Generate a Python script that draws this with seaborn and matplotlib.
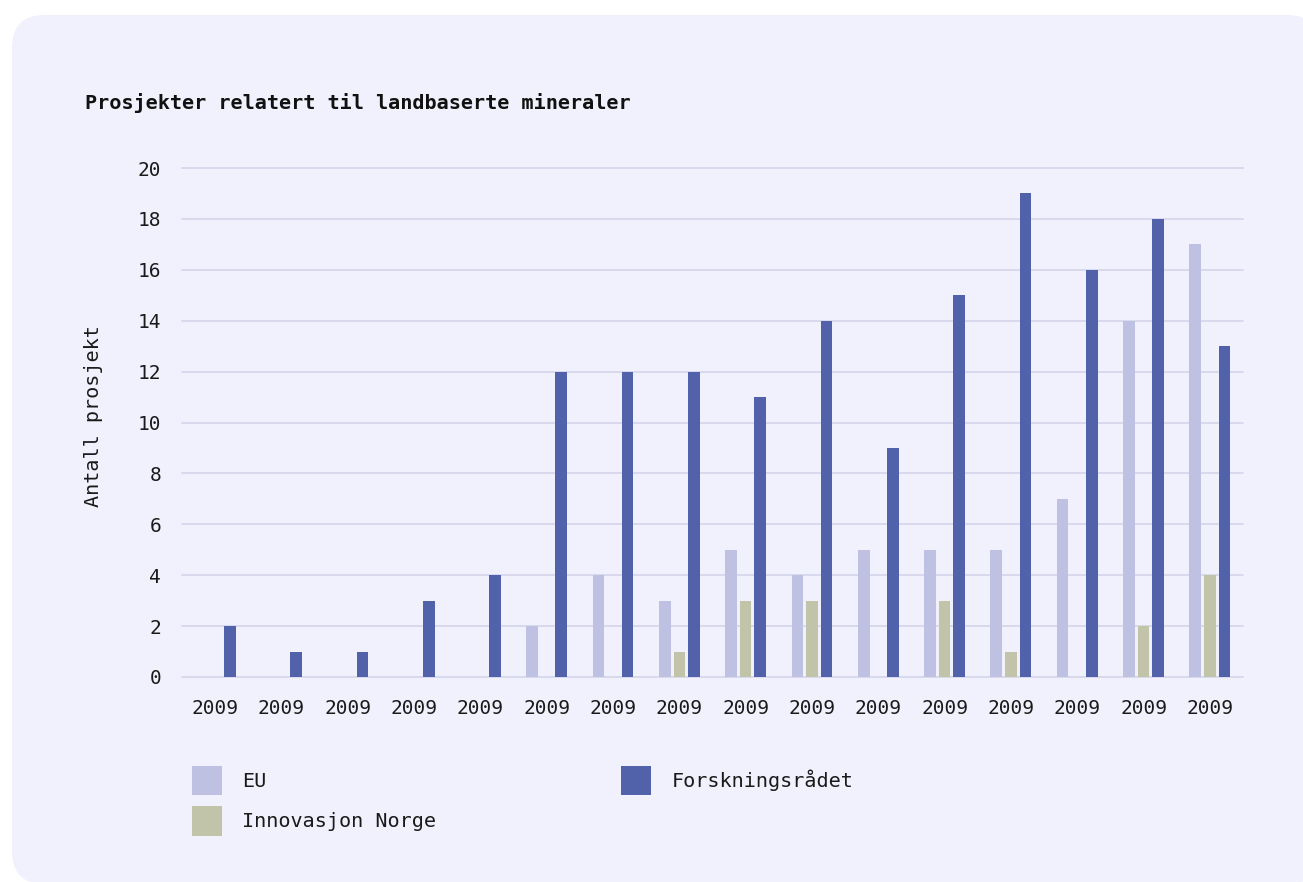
import matplotlib
matplotlib.use("Agg")
import matplotlib.pyplot as plt
from matplotlib.patches import FancyBboxPatch, Patch
import pandas as pd
import seaborn as sns

# Data: number of projects per funding source
years = ["2009"] * 16
eu = [0, 0, 0, 0, 0, 2, 4, 3, 5, 4, 5, 5, 5, 7, 14, 17]
innovasjon_norge = [0, 0, 0, 0, 0, 0, 0, 1, 3, 3, 0, 3, 1, 0, 2, 4]
forskningsradet = [2, 1, 1, 3, 4, 12, 12, 12, 11, 14, 9, 15, 19, 16, 18, 13]

series_names = ["EU", "Innovasjon Norge", "Forskningsrådet"]
series_colors = ["#BFC1E2", "#C1C4A8", "#5162AA"]

rows = []
for name, vals in zip(series_names, [eu, innovasjon_norge, forskningsradet]):
    for i, v in enumerate(vals):
        rows.append({"gruppe": i, "kilde": name, "antall": v})
df = pd.DataFrame(rows)

sns.set_theme(style="white")
plt.rcParams["font.family"] = ["DejaVu Sans Mono"]

W, H = 1303, 882
fig = plt.figure(figsize=(W / 100, H / 100), dpi=100)
fig.patch.set_facecolor("white")

# Rounded background card behind everything
card = FancyBboxPatch((12 / W, (H - 884) / H), (1320 - 12) / W, (884 - 15) / H,
                      boxstyle="round,pad=0,rounding_size=0.025",
                      transform=fig.transFigure, facecolor="#F1F1FD",
                      edgecolor="none", zorder=-10, mutation_aspect=W / H)
fig.patches.append(card)

ax_left, ax_right, ax_top, ax_bottom = 182, 1243, 168, 677
ax = fig.add_axes([ax_left / W, 1 - ax_bottom / H,
                   (ax_right - ax_left) / W, (ax_bottom - ax_top) / H])
ax.set_facecolor("none")
ax.set_zorder(1)

palette = dict(zip(series_names, series_colors))
sns.barplot(data=df, x="gruppe", y="antall", hue="kilde", hue_order=series_names,
            palette=palette, saturation=1, width=0.66, gap=0.2, errorbar=None,
            linewidth=0, legend=False, ax=ax)

ax.set_ylim(0, 20)
ax.set_yticks(range(0, 21, 2))
ax.set_xticks(range(len(years)))
ax.set_xticklabels(years)
ax.set_axisbelow(True)
ax.grid(axis="y", color="#D9D9EE", linewidth=1.4)
ax.grid(axis="x", visible=False)
for gl in ax.get_ygridlines():
    gl.set_clip_on(False)
for s in ax.spines.values():
    s.set_visible(False)
ax.tick_params(axis="both", length=0, labelsize=14, labelcolor="#1a1a1a")
ax.tick_params(axis="x", pad=16)
ax.tick_params(axis="y", pad=15)
ax.set_xlabel("")
ax.set_ylabel("Antall prosjekt", fontsize=14.5, color="#1a1a1a")
ax.yaxis.set_label_coords((103 - ax_left) / (ax_right - ax_left),
                          (ax_bottom - 416) / (ax_bottom - ax_top))

fig.text(85 / W, 1 - 103 / H, "Prosjekter relatert til landbaserte mineraler",
         ha="left", va="center", fontsize=14.5, fontweight="bold", color="#111111")

handles = [Patch(facecolor=c, edgecolor="none", label=n)
           for n, c in zip(series_names, series_colors)]
fig.legend(handles=handles, loc="upper left", bbox_to_anchor=(192 / W, 1 - 766 / H),
           ncol=2, frameon=False, fontsize=14.5, borderpad=0, borderaxespad=0,
           handlelength=1.49, handleheight=1.86, handletextpad=1.0,
           labelspacing=0.55, columnspacing=9.2, labelcolor="#1a1a1a")

fig.savefig("out.png", dpi=100, facecolor=fig.get_facecolor())
